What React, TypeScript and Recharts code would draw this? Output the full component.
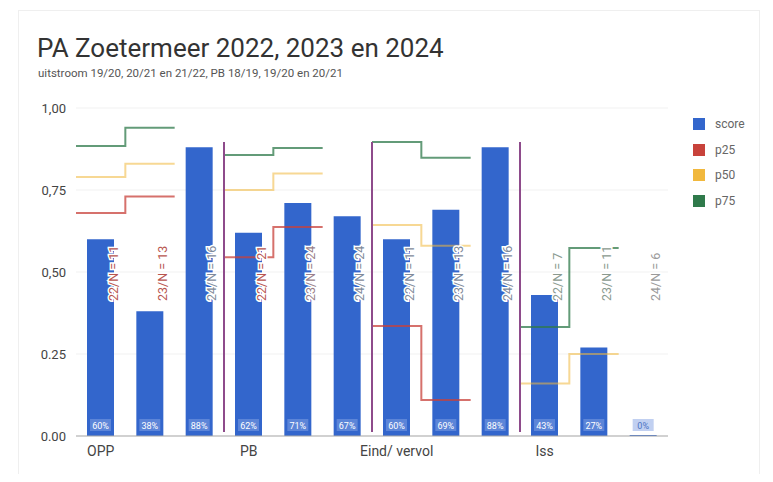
import React from "react";
import {
  ComposedChart,
  Bar,
  Line,
  XAxis,
  YAxis,
  CartesianGrid,
  ReferenceLine,
  LabelList,
} from "recharts";

// data
const groups = ["OPP", "PB", "Eind/ vervol", "Iss"];
const years = ["22", "23", "24"];
const nCounts = [11, 13, 16, 21, 24, 24, 11, 13, 16, 7, 11, 6];
const score = [0.6, 0.38, 0.88, 0.62, 0.71, 0.67, 0.6, 0.69, 0.88, 0.43, 0.27, 0];
const p25 = [0.68, 0.73, null, 0.545, 0.637, null, 0.335, 0.11, null, null, null, null];
const p50 = [0.79, 0.83, null, 0.75, 0.8, null, 0.643, 0.58, null, 0.16, 0.25, null];
const p75 = [0.884, 0.94, null, 0.857, 0.878, null, 0.896, 0.848, null, 0.332, 0.573, null];
const yTicks = [0, 0.25, 0.5, 0.75, 1];
const yTickLabels = ["0.00", "0.25", "0,50", "0,75", "1,00"];
const groupEdges = [3, 6, 9];

const COLORS = { score: "#3366cc", p25: "#c8423b", p50: "#f1b83d", p75: "#2f7a4b" };
const tagColors = ["#b8554f", "#b8554f", "#7f8a9a", "#b8554f", "#9a7f8a", "#7f8a9a", "#7f8a9a", "#7f8a9a", "#7f8a9a", "#8a9a8f", "#8a9a8f", "#9a9a9a"];

const data = score.map((s, i) => ({
  cat: `${groups[Math.floor(i / 3)]} ${years[i % 3]}`,
  tag: `${years[i % 3]}/N = ${nCounts[i]}`,
  score: s,
}));

// each value covers its whole category band, breaks between groups
function stepPoints(vals: (number | null)[]) {
  const pts: { x: number; v: number | null }[] = [];
  vals.forEach((v, i) => {
    if (v == null || (i % 3 === 0 && i > 0)) pts.push({ x: i, v: null });
    if (v != null) {
      pts.push({ x: i, v });
      pts.push({ x: i + 1, v });
    }
  });
  return pts;
}

const box = (p: any) => {
  const vb = p.viewBox || {};
  const x = p.x ?? vb.x;
  const y = p.y ?? vb.y;
  const width = p.width ?? vb.width;
  const height = p.height ?? vb.height;
  return { x, y, width, height };
};

const PctLabel = (p: any) => {
  const { x, y, width, height } = box(p);
  const base = y + height;
  const v = Number(p.value);
  return (
    <g>
      <rect x={x + 3} y={base - 17} width={width - 6} height={12} fill="#8eaae6" opacity={v > 0 ? 0.45 : 0.55} />
      <text x={x + width / 2} y={base - 7.5} textAnchor="middle" fontSize={9} fill={v > 0 ? "#ffffff" : "#4d74c4"}>
        {Math.round(v * 100)}%
      </text>
    </g>
  );
};

const TagLabel = (p: any) => {
  const { x, y, width, height } = box(p);
  const base = y + height;
  const tx = x + width - 1;
  const ty = base - 135;
  return (
    <text
      x={tx}
      y={ty}
      transform={`rotate(-90 ${tx} ${ty})`}
      textAnchor="start"
      dominantBaseline="central"
      fontSize={12.5}
      fill={tagColors[p.index] || "#888"}
      stroke="#ffffff"
      strokeWidth={3}
      paintOrder="stroke"
    >
      {p.value}
    </text>
  );
};

const EdgeLine = (p: any) => (
  <line x1={p.x1} y1={p.y1 - 4} x2={p.x2} y2={p.y2 + 34} stroke="#8e4b8b" strokeWidth={2} />
);

const legendItems = [
  { name: "score", color: COLORS.score },
  { name: "p25", color: COLORS.p25 },
  { name: "p50", color: COLORS.p50 },
  { name: "p75", color: COLORS.p75 },
];

export default function App() {
  const font = "Roboto, 'Noto Sans', sans-serif";
  return (
    <div style={{ position: "relative", width: 773, height: 482, margin: -8, background: "#fff", fontFamily: font }}>
      <div style={{ position: "absolute", left: 18, top: 10, width: 740, height: 468, border: "1px solid #efefef" }} />
      <div style={{ position: "absolute", left: 37, top: 33, fontSize: 26, color: "#333", lineHeight: "30px", whiteSpace: "nowrap" }}>
        PA Zoetermeer 2022, 2023 en 2024
      </div>
      <div style={{ position: "absolute", left: 38, top: 67, fontSize: 11.5, color: "#555", lineHeight: "13px", whiteSpace: "nowrap" }}>
        uitstroom 19/20, 20/21 en 21/22, PB 18/19, 19/20 en 20/21
      </div>
      <div style={{ position: "absolute", left: 0, top: 0 }}>
        <ComposedChart width={773} height={482} data={data} margin={{ top: 108, right: 105, bottom: 16, left: 36 }}>
          <CartesianGrid xAxisId="c" vertical={false} stroke="#f1f1f1" />
          <XAxis
            xAxisId="c"
            dataKey="cat"
            height={30}
            interval={0}
            tickLine={false}
            axisLine={{ stroke: "#aaa" }}
            tickMargin={4}
            tick={{ fontSize: 14, fill: "#444", fontFamily: font }}
            tickFormatter={(_v: string, i: number) => (i % 3 === 0 ? groups[i / 3] : "")}
          />
          <XAxis xAxisId="n" type="number" dataKey="x" domain={[0, 12]} hide allowDataOverflow />
          <YAxis
            width={40}
            domain={[0, 1]}
            ticks={yTicks}
            tickLine={false}
            axisLine={false}
            tickMargin={4}
            tick={{ fontSize: 13, fill: "#444", fontFamily: font }}
            tickFormatter={(v: number) => yTickLabels[yTicks.indexOf(v)]}
          />
          <Bar xAxisId="c" dataKey="score" fill={COLORS.score} barSize={27} minPointSize={1} isAnimationActive={false}>
            <LabelList dataKey="score" content={PctLabel} />
            <LabelList dataKey="tag" content={TagLabel} />
          </Bar>
          <Line xAxisId="n" data={stepPoints(p25)} dataKey="v" type="linear" stroke={COLORS.p25} strokeOpacity={0.75} strokeWidth={2} dot={false} activeDot={false} isAnimationActive={false} />
          <Line xAxisId="n" data={stepPoints(p50)} dataKey="v" type="linear" stroke={COLORS.p50} strokeOpacity={0.55} strokeWidth={2} dot={false} activeDot={false} isAnimationActive={false} />
          <Line xAxisId="n" data={stepPoints(p75)} dataKey="v" type="linear" stroke={COLORS.p75} strokeOpacity={0.75} strokeWidth={2} dot={false} activeDot={false} isAnimationActive={false} />
          {groupEdges.map((g) => (
            <ReferenceLine key={g} xAxisId="n" x={g} shape={EdgeLine} />
          ))}
        </ComposedChart>
      </div>
      {legendItems.map((it, i) => (
        <div key={it.name} style={{ position: "absolute", left: 693, top: 117 + i * 25.5, display: "flex", alignItems: "center", fontSize: 12, color: "#666", lineHeight: "14px" }}>
          <span style={{ width: 12, height: 12, background: it.color, marginRight: 10, display: "inline-block" }} />
          {it.name}
        </div>
      ))}
    </div>
  );
}
